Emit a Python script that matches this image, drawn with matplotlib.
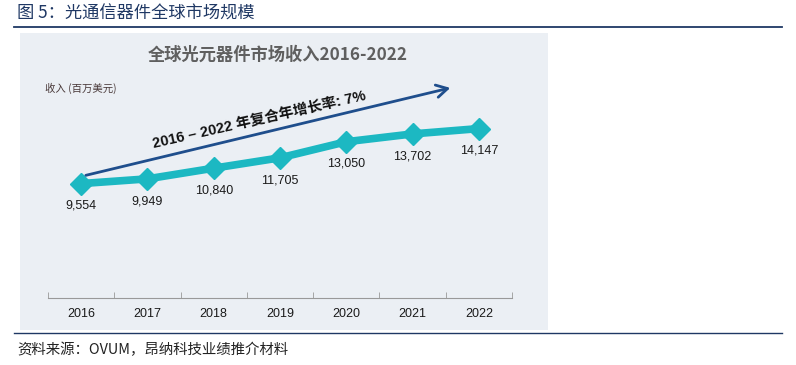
import matplotlib.pyplot as plt
from matplotlib.patches import Rectangle

plt.rcParams['font.family'] = ['Liberation Sans', 'Noto Sans CJK SC']

years = ['2016', '2017', '2018', '2019', '2020', '2021', '2022']
revenue = [9554, 9949, 10840, 11705, 13050, 13702, 14147]
value_labels = ['9,554', '9,949', '10,840', '11,705', '13,050', '13,702', '14,147']

W, H = 796, 365
fig = plt.figure(figsize=(W / 100, H / 100), dpi=100)


def fx(px):
    return px / W


def fy(py):
    return 1 - py / H


# header / footer
fig.text(fx(17), fy(14), '图 5：光通信器件全球市场规模', fontsize=12.4, color='#1f3864',
         family=['Noto Sans CJK SC', 'DejaVu Sans'], va='center', ha='left')
fig.add_artist(plt.Line2D([fx(14), fx(782)], [fy(27), fy(27)], color='#1f3864', lw=1.3))
fig.add_artist(Rectangle((fx(20), fy(330)), fx(528), (330 - 33) / H, color='#ebeff4', lw=0,
                         zorder=-5))
fig.add_artist(plt.Line2D([fx(14), fx(782)], [fy(333), fy(333)], color='#1f3864', lw=1.0))
fig.text(fx(17), fy(350), '资料来源：OVUM，昂纳科技业绩推介材料', fontsize=10.4, color='#222222',
         family=['Noto Sans CJK SC', 'DejaVu Sans'], va='center', ha='left')

# chart inside panel
ax = fig.add_axes([fx(48), fy(298), fx(512 - 48), (298 - 58.5) / H])
ax.set_zorder(3)
ax.set_facecolor('none')
x = list(range(len(years)))
ax.plot(x, revenue, color='#1cb8c2', lw=5.5, marker='D', markersize=11, solid_capstyle='round')
for xi, v, lab in zip(x, revenue, value_labels):
    ax.annotate(lab, (xi, v), xytext=(0, -16), textcoords='offset points',
                ha='center', va='center', fontsize=9, color='#1a1a1a')

ax.set_xlim(-0.5, len(years) - 0.5)
ax.set_ylim(0, 20000)
ax.set_yticks([])
for s in ['top', 'right', 'left']:
    ax.spines[s].set_visible(False)
ax.spines['bottom'].set_color('#999999')
ax.set_xticks(x)
ax.set_xticklabels(years, fontsize=9, color='#1a1a1a')
ax.tick_params(axis='x', which='major', length=0, pad=7)
ax.set_xticks([i - 0.5 for i in range(len(years) + 1)], minor=True)
ax.tick_params(axis='x', which='minor', direction='in', length=4, color='#999999')

# CAGR arrow
ax.annotate('', xy=(5.61, 17600), xytext=(0.03, 10190),
            arrowprops=dict(arrowstyle='->,head_length=0.8,head_width=0.45', color='#1f4e8c', lw=2))
ax.text(2.68, 14870, '2016 – 2022 年复合年增长率: 7%', rotation=12.8, rotation_mode='anchor',
        ha='center', va='center', fontsize=10.5, fontweight='bold', color='#111111',
        family=['Liberation Sans', 'Noto Sans CJK SC'])

fig.text(fx(278), fy(55), '全球光元器件市场收入2016-2022', fontsize=12.4, fontweight='bold',
         color='#5f5f5f', ha='center', va='center', family=['Noto Sans CJK SC', 'DejaVu Sans'])
fig.text(fx(45), fy(88), '收入 (百万美元)', fontsize=7.5, color='#4a3a3a', ha='left', va='center',
         family=['Noto Sans CJK SC', 'DejaVu Sans'])

fig.savefig('out.png', dpi=100)
